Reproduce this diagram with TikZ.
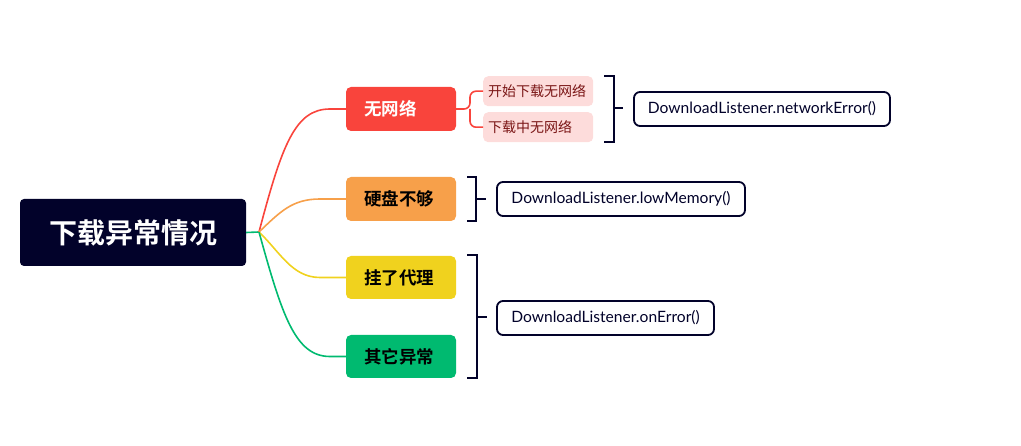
\documentclass[tikz,border=0pt]{standalone}
\usepackage{fontspec}
\setmainfont{Lato}
\newfontfamily\cjk{Noto Sans CJK SC}
\newfontfamily\cjkb{Noto Sans CJK SC Bold}
\definecolor{navy}{HTML}{02022A}
\definecolor{cred}{HTML}{F9443C}
\definecolor{corange}{HTML}{F7A04A}
\definecolor{cyellow}{HTML}{F0D21E}
\definecolor{cgreen}{HTML}{00BA70}
\definecolor{cpink}{HTML}{FDDCDB}
\definecolor{cdred}{HTML}{7A1515}
\tikzset{
  px/.style={x=1pt,y=-1pt},
  rootbox/.style={fill=navy,rounded corners=4pt,text=white,font=\cjkb\fontsize{28}{30}\selectfont},
  branch/.style={rounded corners=5pt,anchor=north west,inner sep=0pt,outer sep=0pt},
  btext/.style={anchor=west,font=\cjkb\fontsize{17.5}{20}\selectfont,inner sep=0pt},
  subbox/.style={fill=cpink,rounded corners=5pt,anchor=north west,minimum width=110pt,minimum height=30pt,inner sep=0pt},
  subtext/.style={anchor=west,text=cdred,font=\cjk\fontsize{14}{16}\selectfont,inner sep=0pt},
  codebox/.style={draw=navy,line width=1.8pt,rounded corners=6pt,fill=white,text=navy,font=\fontsize{15.6}{17}\selectfont,inner sep=0pt},
  bracket/.style={draw=navy,line width=2pt},
  link/.style={line width=1.6pt}
}
\begin{document}
\begin{tikzpicture}[px]
\useasboundingbox (0,0) rectangle (1021,446);
% root
\node[rootbox,minimum width=226pt,minimum height=67pt,inner sep=0pt] (root) at (133,232.5) {下载异常情况};
\coordinate (j) at (259,232);
% branches
\node[branch,fill=cred,minimum width=110pt,minimum height=44pt] (b1) at (346,87) {};
\node[branch,fill=corange,minimum width=110pt,minimum height=44pt] (b2) at (346,177) {};
\node[branch,fill=cyellow,minimum width=110pt,minimum height=43pt] (b3) at (346,256) {};
\node[branch,fill=cgreen,minimum width=110pt,minimum height=43pt] (b4) at (346,335) {};
\node[btext,text=white] (t1) at (364,109) {无网络};
\node[btext,text=black] (t2) at (364,199) {硬盘不够};
\node[btext,text=black] (t3) at (364,277.5) {挂了代理};
\node[btext,text=black] (t4) at (364,356.5) {其它异常};
% links
\draw[link,cgreen] (root.east) -- (j);
\draw[link,cred] (j) .. controls (282,145) and (295,109) .. (330,109) -- (b1.west);
\draw[link,corange] (j) .. controls (280,212) and (292,199) .. (320,199) -- (b2.west);
\draw[link,cyellow] (j) .. controls (280,252) and (292,277.5) .. (320,277.5) -- (b3.west);
\draw[link,cgreen] (j) .. controls (282,315) and (295,356.5) .. (330,356.5) -- (b4.west);
% sub nodes
\node[subbox] (s1) at (483,76) {};
\node[subbox] (s2) at (483,112) {};
\node[subtext] at (488,91) {开始下载无网络};
\node[subtext] at (488,127) {下载中无网络};
\coordinate (sj) at (470,109);
\draw[link,cred,rounded corners=6pt] (b1.east) -- (sj) |- (s1.west);
\draw[link,cred,rounded corners=6pt] (sj) |- (s2.west);
% brackets
\draw[bracket] (604,76) -- (614,76) -- (614,142) -- (604,142);
\draw[bracket] (614,108) -- (623,108);
\draw[bracket] (467,177) -- (476,177) -- (476,221) -- (467,221);
\draw[bracket] (476,199) -- (486,199);
\draw[bracket] (467,255) -- (477,255) -- (477,378) -- (467,378);
\draw[bracket] (477,317) -- (487,317);
% code boxes
\node[codebox,minimum width=256pt,minimum height=34pt] (c1) at (762,109) {DownloadListener.networkError()};
\node[codebox,minimum width=248pt,minimum height=34pt] (c2) at (621,199) {DownloadListener.lowMemory()};
\node[codebox,minimum width=217pt,minimum height=34pt] (c3) at (605.5,318) {DownloadListener.onError()};
\end{tikzpicture}
\end{document}
